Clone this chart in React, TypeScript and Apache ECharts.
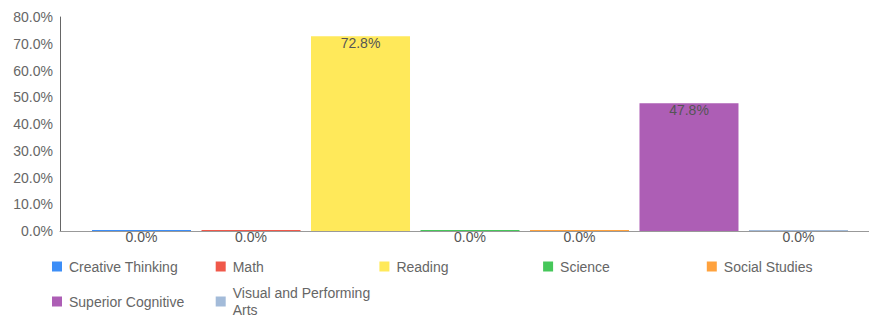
import React, { useEffect, useRef } from "react";
import * as echarts from "echarts";

const categories = [
  "Creative Thinking",
  "Math",
  "Reading",
  "Science",
  "Social Studies",
  "Superior Cognitive",
  "Visual and Performing Arts",
];
const values = [0, 0, 72.8, 0, 0, 47.8, 0];
const colors = ["#3d8ef7", "#f0584a", "#ffe95a", "#46c75a", "#ffa23d", "#ad5eb5", "#a3bbd9"];
const yTicks = { min: 0, max: 80, interval: 10 };

const FONT = "Liberation Sans";

export default function App() {
  const ref = useRef<HTMLDivElement>(null);
  useEffect(() => {
    document.body.style.margin = "0";
    document.body.style.overflow = "hidden";
    document.documentElement.style.overflow = "hidden";
    if (!ref.current) return;
    const chart = echarts.init(ref.current, null, { renderer: "svg" });
    const legendText = {
      color: "#666",
      fontSize: 14,
      fontFamily: FONT,
      lineHeight: 17,
      width: 142,
      overflow: "break",
      padding: [0, 0, 7, 2],
    };
    const legendBase = {
      orient: "horizontal",
      left: 52,
      width: 840,
      padding: 0,
      itemWidth: 10,
      itemHeight: 10,
      itemGap: 4.7,
      icon: "rect",
      textStyle: legendText,
    };
    chart.setOption({
      animation: false,
      textStyle: { fontFamily: FONT },
      grid: { left: 60, right: 1, top: 17, bottom: 88, containLabel: false },
      legend: [
        { ...legendBase, top: 254.5, data: categories.slice(0, 5) },
        { ...legendBase, top: 281, data: categories.slice(5) },
      ],
      xAxis: {
        type: "category",
        data: [""],
        axisTick: { show: false },
        axisLabel: { show: false },
        axisLine: { show: true, lineStyle: { color: "#999" } },
      },
      yAxis: {
        type: "value",
        min: yTicks.min,
        max: yTicks.max,
        interval: yTicks.interval,
        splitLine: { show: false },
        axisTick: { show: false },
        axisLine: { show: true, lineStyle: { color: "#666" } },
        axisLabel: {
          color: "#666",
          fontSize: 14,
          fontFamily: FONT,
          margin: 7,
          formatter: (v: number) => v.toFixed(1) + "%",
        },
      },
      series: categories.map((name, i) => ({
        name,
        type: "bar",
        data: [values[i]],
        barWidth: 99,
        barGap: "10.6%",
        barMinHeight: 1,
        itemStyle: { color: colors[i] },
        label: {
          show: true,
          position: "insideTop",
          distance: 0,
          color: "#555",
          fontSize: 14,
          fontFamily: FONT,
          formatter: (p: any) => Number(p.value).toFixed(1) + "%",
        },
      })),
    });
    return () => chart.dispose();
  }, []);
  return <div ref={ref} style={{ width: 881, height: 319 }} />;
}
